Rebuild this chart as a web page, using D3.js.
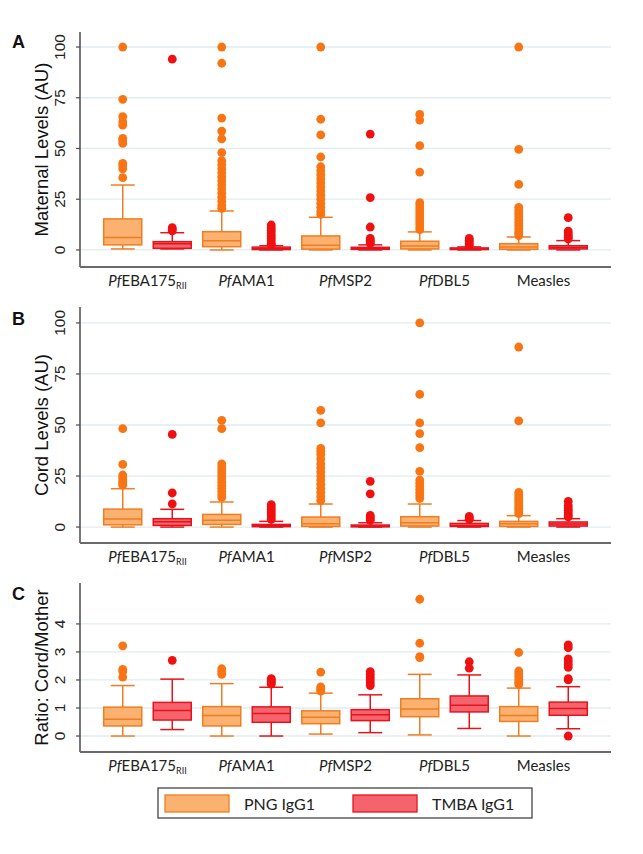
<!DOCTYPE html>
<html><head><meta charset="utf-8">
<script src="https://cdn.jsdelivr.net/npm/d3@7"></script>
<style>body{margin:0;background:#fff} svg{display:block}</style>
</head><body>
<script>
// ---------- DATA ----------
const categories = ["PfEBA175RII","PfAMA1","PfMSP2","PfDBL5","Measles"];
const groups = ["PNG IgG1","TMBA IgG1"];
const ticksLevels = [0,25,50,75,100];
const ticksRatio = [0,1,2,3,4];

// box stats per category: [low whisker, q1, median, q3, high whisker]
const maternalPNG  = [[0.5,2.5,6.1,15.3,32],[0,1.6,4.5,9,19.2],[0,0.4,2.3,6.9,16.1],[0,0.5,2,4.3,8.9],[0,0.3,1.5,3.1,6.4]];
const maternalTMBA = [[0.5,0.8,3.0,4.1,8.5],[0,0.2,0.6,1.4,2.1],[0,0.3,0.7,1.3,2.5],[0,0.2,0.5,1,1.5],[0,0.5,1.2,2.1,4.6]];
const maternalPNGOut = [
  [100,74.2,65.7,63.2,61.5,55,53.9,52.5,42.7,41.5,40,35.6],
  [100,92,65,58.6,54.7,48,44,42,40,38,36,34,32,30,28,26,24,22,20.5],
  [100,64.4,56.7,45.8,41,39,37,35,33,31,29,27,25,23,21,19,17.5],
  [66.8,64,51.4,38.4,23.3,21.8,20.3,18.8,17.3,15.8,14.3,12.8,11.3,10],
  [100,49.6,32.3,21,19.5,18,16.5,15,13.5,12,10.5,9,8,7]
];
const maternalTMBAOut = [
  [94,11,10.2,9.4],
  [12.3,11,9.7,8.4,7.1,5.8,4.5,3.3,2.6],
  [57.1,25.8,11.3,5.7,4.8,4,3.2],
  [5.7,4.8,3.9,3,2.2],
  [15.9,9.3,8.3,7.3,6.3,5.4]
];

const cordPNG  = [[0,1.1,3.9,8.8,18.8],[0,1.3,3.3,6.2,12.3],[0,0.3,1.6,4.9,11.3],[0,0.5,2.1,5.1,11.3],[0,0.3,1.6,2.8,5.6]];
const cordTMBA = [[0,0.8,2.6,4.1,8.7],[0,0.2,0.6,1.3,2.8],[0,0.1,0.5,1,2.1],[0,0.3,0.8,1.8,3.2],[0,0.5,1.5,2.5,4.1]];
const cordPNGOut = [
  [48.2,30.7,25.5,24.5,23.5,22.5,21.5,20.5],
  [52.3,48.2,31,29.5,28,26.5,25,23.5,22,20.5,19,17.5,16,14.5],
  [57.2,51,38.5,37,35.5,33.3,31,29,27,25,23,21,19,17,15,13],
  [100,65,51,45.8,38.9,27.3,23,21.5,20,18.5,17,15.5,14],
  [88.2,52,17,15.7,14.4,13.1,11.8,10.5,9.2,7.9,6.6]
];
const cordTMBAOut = [
  [45.4,16.7,11.4],
  [11,9.8,8.6,7.4,6.2,5,3.8],
  [22.4,16.3,5.7,4.9,4.1,3.3],
  [5.2,4.5,3.8],
  [12.6,10.6,9.4,8.2,7,5.8,5]
];

const ratioPNG  = [[0,0.36,0.6,1.03,1.8],[0,0.36,0.73,1.05,1.87],[0.07,0.44,0.67,0.9,1.53],[0.04,0.69,0.96,1.33,2.2],[0,0.52,0.73,1.05,1.71]];
const ratioTMBA = [[0.23,0.57,0.91,1.2,2.03],[0,0.49,0.8,1.04,1.74],[0.12,0.55,0.76,0.94,1.47],[0.27,0.86,1.1,1.43,2.18],[0.26,0.74,0.98,1.21,1.76]];
const ratioPNGOut = [
  [3.22,2.38,2.3,2.1],
  [2.4,2.3,2.2],
  [2.28,1.75,1.7,1.65,1.6],
  [4.88,3.31,2.83,2.8],
  [2.98,2.32,2.22,2.12,2.02,1.92,1.84]
];
const ratioTMBAOut = [
  [2.7],
  [2.05,2.0,1.95,1.9,1.85],
  [2.3,2.2,2.1,2.0,1.9,1.8],
  [2.65,2.42],
  [3.25,3.15,2.75,2.65,2.55,2.45,2.05,2.0,0]
];

// ---------- STYLE ----------
const W = 643, H = 854;
const colors = {
  "PNG IgG1":  {fill:"#FBB170", stroke:"#F07D22", dot:"#F97514"},
  "TMBA IgG1": {fill:"#F5646C", stroke:"#E5141C", dot:"#F01010"}
};
const catFont = "Lato, 'Open Sans', sans-serif";
const axFont = "'Liberation Sans', Arial, sans-serif";

const svg = d3.select("body").append("svg").attr("width", W).attr("height", H);

const x0 = d3.scaleBand().domain(categories).range([98, 593]).padding(0);
const x1 = d3.scaleBand().domain(groups).range([0, x0.bandwidth()]).paddingInner(0.232).paddingOuter(0.116);

const panels = [
  {letter:"A", title:"Maternal Levels (AU)", top:32, bottom:267, domain:[-8.4,107.4], ticks:ticksLevels,
   stats:[maternalPNG, maternalTMBA], outs:[maternalPNGOut, maternalTMBAOut], letterY:48},
  {letter:"B", title:"Cord Levels (AU)", top:307, bottom:543, domain:[-7.8,107.8], ticks:ticksLevels,
   stats:[cordPNG, cordTMBA], outs:[cordPNGOut, cordTMBAOut], letterY:325},
  {letter:"C", title:"Ratio: Cord/Mother", top:583, bottom:752, domain:[-0.57,5.46], ticks:ticksRatio,
   stats:[ratioPNG, ratioTMBA], outs:[ratioPNGOut, ratioTMBAOut], letterY:600}
];

const axisX = 80, plotRight = 611;

panels.forEach(p => {
  const y = d3.scaleLinear().domain(p.domain).range([p.bottom, p.top]);
  const g = svg.append("g");

  // gridlines
  g.selectAll(".grid").data(p.ticks).enter().append("line")
    .attr("x1", axisX).attr("x2", plotRight)
    .attr("y1", d => y(d)).attr("y2", d => y(d))
    .attr("stroke", "#E2EBEF").attr("stroke-width", 1.3);

  // boxes
  groups.forEach((grp, gi) => {
    const c = colors[grp];
    const bw = x1.bandwidth();
    const capW = bw * 0.63;
    categories.forEach((cat, ci) => {
      const s = p.stats[gi][ci];
      const cx = x0(cat) + x1(grp) + bw / 2;
      const bg = g.append("g");
      bg.append("line").attr("x1", cx).attr("x2", cx).attr("y1", y(s[0])).attr("y2", y(s[1]))
        .attr("stroke", c.stroke).attr("stroke-width", 1.5);
      bg.append("line").attr("x1", cx).attr("x2", cx).attr("y1", y(s[3])).attr("y2", y(s[4]))
        .attr("stroke", c.stroke).attr("stroke-width", 1.5);
      [s[0], s[4]].forEach(v => {
        bg.append("line").attr("x1", cx - capW/2).attr("x2", cx + capW/2).attr("y1", y(v)).attr("y2", y(v))
          .attr("stroke", c.stroke).attr("stroke-width", 1.5);
      });
      bg.append("rect").attr("x", cx - bw/2).attr("width", bw)
        .attr("y", y(s[3])).attr("height", Math.max(1, y(s[1]) - y(s[3])))
        .attr("fill", c.fill).attr("stroke", c.stroke).attr("stroke-width", 1.5);
      bg.append("line").attr("x1", cx - bw/2).attr("x2", cx + bw/2).attr("y1", y(s[2])).attr("y2", y(s[2]))
        .attr("stroke", c.stroke).attr("stroke-width", 1.5);
      bg.selectAll("circle").data(p.outs[gi][ci]).enter().append("circle")
        .attr("cx", cx).attr("cy", d => y(d)).attr("r", 4.4).attr("fill", c.dot);
    });
  });

  // y axis
  g.append("line").attr("x1", axisX).attr("x2", axisX).attr("y1", p.top).attr("y2", p.bottom)
    .attr("stroke", "#4a4a4a").attr("stroke-width", 1.5);
  g.selectAll(".tk").data(p.ticks).enter().append("line")
    .attr("x1", axisX - 4).attr("x2", axisX).attr("y1", d => y(d)).attr("y2", d => y(d))
    .attr("stroke", "#4a4a4a").attr("stroke-width", 1.2);
  g.selectAll(".tl").data(p.ticks).enter().append("text")
    .attr("transform", d => `translate(${axisX - 15},${y(d)}) rotate(-90)`)
    .attr("text-anchor", "middle")
    .attr("font-family", axFont).attr("font-size", 15.5).attr("fill", "#222")
    .text(d => d);
  // x axis
  g.append("line").attr("x1", axisX).attr("x2", plotRight).attr("y1", p.bottom).attr("y2", p.bottom)
    .attr("stroke", "#6a6a6a").attr("stroke-width", 2);

  // y title
  g.append("text")
    .attr("transform", `translate(48,${(p.top + p.bottom) / 2}) rotate(-90)`)
    .attr("text-anchor", "middle")
    .attr("font-family", axFont).attr("font-size", 18.5).attr("fill", "#111")
    .text(p.title);

  // panel letter
  g.append("text").attr("x", 12).attr("y", p.letterY)
    .attr("font-family", axFont).attr("font-weight", "bold").attr("font-size", 18).attr("fill", "#111")
    .text(p.letter);

  // category labels
  categories.forEach(cat => {
    const t = g.append("text")
      .attr("x", x0(cat) + x0.bandwidth() / 2).attr("y", p.bottom + 19)
      .attr("text-anchor", "middle")
      .attr("font-family", catFont).attr("font-size", 15).attr("fill", "#222");
    if (cat.startsWith("Pf")) {
      t.append("tspan").attr("font-style", "italic").text("Pf");
      if (cat.endsWith("RII")) {
        t.append("tspan").text(cat.slice(2, -3));
        t.append("tspan").attr("font-size", 9).attr("dy", 3).text("RII");
      } else {
        t.append("tspan").text(cat.slice(2));
      }
    } else {
      t.text(cat);
    }
  });
});

// legend
const lg = svg.append("g");
lg.append("rect").attr("x", 158).attr("y", 788).attr("width", 374).attr("height", 30)
  .attr("fill", "#fff").attr("stroke", "#444").attr("stroke-width", 1.3);
const legX = [165, 353];
groups.forEach((grp, i) => {
  const c = colors[grp];
  lg.append("rect").attr("x", legX[i]).attr("y", 795).attr("width", 64).attr("height", 17)
    .attr("fill", c.fill).attr("stroke", c.stroke).attr("stroke-width", 1.3);
  lg.append("text").attr("x", legX[i] + 79).attr("y", 810)
    .attr("font-family", catFont).attr("font-size", 16).attr("fill", "#222").text(grp);
});
</script>
</body></html>
